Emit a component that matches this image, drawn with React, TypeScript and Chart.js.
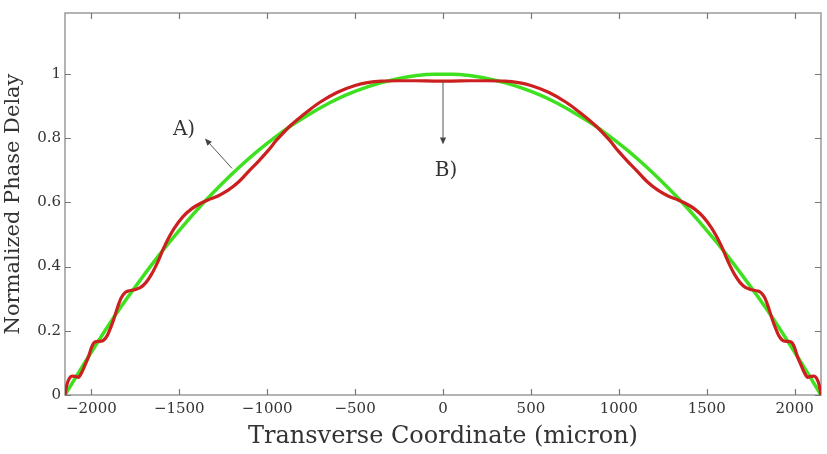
import React, { useEffect, useRef } from "react";
import { Chart, registerables } from "chart.js";

Chart.register(...registerables);

// Smooth reference profile (A)
const greenX = [
  -2150, -2050, -1950, -1850, -1750, -1650, -1550, -1450, -1350, -1250, -1150,
  -1050, -950, -850, -750, -650, -550, -450, -350, -250, -150, -50,
  50, 150, 250, 350, 450, 550, 650, 750, 850, 950, 1050,
  1150, 1250, 1350, 1450, 1550, 1650, 1750, 1850, 1950, 2050, 2150,
];
const greenY = [
  0, 0.09, 0.177, 0.26, 0.337, 0.411, 0.48, 0.545, 0.606, 0.662, 0.714,
  0.762, 0.805, 0.844, 0.878, 0.909, 0.935, 0.956, 0.973, 0.986, 0.995, 0.999,
  0.999, 0.995, 0.986, 0.973, 0.956, 0.935, 0.909, 0.878, 0.844, 0.805, 0.762,
  0.714, 0.662, 0.606, 0.545, 0.48, 0.411, 0.337, 0.26, 0.177, 0.09, 0,
];

// Rippled profile (B)
const redX = [
  -2150, -2140, -2125, -2110, -2092, -2074, -2055, -2035, -2017, -1998, -1980,
  -1955, -1932, -1910, -1890, -1875, -1850, -1830, -1810, -1790, -1755, -1720,
  -1690, -1659, -1635, -1614, -1591, -1560, -1528, -1480, -1432, -1375, -1335,
  -1280, -1222, -1160, -1100, -1050, -994, -950, -920, -870, -824, -760,
  -700, -600, -500, -430, -350, -250, -150, -50, 0,
  50, 150, 250, 350, 430, 500, 600, 700,
  760, 824, 870, 920, 950, 994, 1050, 1100, 1160, 1222, 1280,
  1335, 1375, 1432, 1480, 1528, 1560, 1591, 1614, 1635, 1659, 1690,
  1720, 1755, 1790, 1810, 1830, 1850, 1875, 1890, 1910, 1932, 1955,
  1980, 1998, 2017, 2035, 2055, 2074, 2092, 2110, 2125, 2140, 2150,
];
const redY = [
  0, 0.03, 0.052, 0.059, 0.058, 0.055, 0.07, 0.095, 0.118, 0.15, 0.165,
  0.167, 0.17, 0.185, 0.21, 0.232, 0.275, 0.303, 0.318, 0.324, 0.328, 0.335,
  0.35, 0.375, 0.4, 0.425, 0.455, 0.49, 0.52, 0.555, 0.579, 0.598, 0.608,
  0.62, 0.638, 0.665, 0.7, 0.728, 0.762, 0.792, 0.81, 0.838, 0.86, 0.888,
  0.912, 0.943, 0.964, 0.973, 0.978, 0.979, 0.979, 0.978, 0.978,
  0.978, 0.979, 0.979, 0.978, 0.973, 0.964, 0.943, 0.912,
  0.888, 0.86, 0.838, 0.81, 0.792, 0.762, 0.728, 0.7, 0.665, 0.638, 0.62,
  0.608, 0.598, 0.579, 0.555, 0.52, 0.49, 0.455, 0.425, 0.4, 0.375, 0.35,
  0.335, 0.328, 0.324, 0.318, 0.303, 0.275, 0.232, 0.21, 0.185, 0.17, 0.167,
  0.165, 0.15, 0.118, 0.095, 0.07, 0.055, 0.058, 0.059, 0.052, 0.03, 0,
];

const xTicks = [-2000, -1500, -1000, -500, 0, 500, 1000, 1500, 2000];
const yTicks = [0, 0.2, 0.4, 0.6, 0.8, 1];
const xRange = [-2150, 2150];
const yRange = [0, 1.19];
const xTitle = "Transverse Coordinate (micron)";
const yTitle = "Normalized Phase Delay";

const annotations = [
  { label: "A)", textX: -1473, textY: 0.827, fromX: -1200, fromY: 0.706, toX: -1354, toY: 0.799 },
  { label: "B)", textX: 17, textY: 0.697, fromX: 0, fromY: 0.978, toX: 0, toY: 0.78 },
];

const SERIF = "'DejaVu Serif', 'Liberation Serif', serif";

const fmtTick = (v: number) => {
  const s = String(Math.round(v * 1000) / 1000);
  return v < 0 ? "\u2212" + s.slice(1) : s;
};

const framePlugin = {
  id: "frame",
  beforeDatasetsDraw(chart: any) {
    const { ctx, chartArea, scales } = chart;
    const { left, right, top, bottom } = chartArea;
    ctx.save();
    ctx.strokeStyle = "#9a9a9a";
    ctx.lineWidth = 1.5;
    ctx.strokeRect(left, top, right - left, bottom - top);
    ctx.strokeStyle = "#777";
    ctx.lineWidth = 1.2;
    ctx.beginPath();
    for (const v of xTicks) {
      const px = Math.round(scales.x.getPixelForValue(v)) + 0.5;
      ctx.moveTo(px, bottom);
      ctx.lineTo(px, bottom - 6);
      ctx.moveTo(px, top);
      ctx.lineTo(px, top + 6);
    }
    for (const v of yTicks) {
      const py = Math.round(scales.y.getPixelForValue(v)) + 0.5;
      ctx.moveTo(left, py);
      ctx.lineTo(left + 6, py);
      ctx.moveTo(right, py);
      ctx.lineTo(right - 6, py);
    }
    ctx.stroke();
    ctx.restore();
  },
};

const annotationPlugin = {
  id: "notes",
  afterDatasetsDraw(chart: any) {
    const { ctx, scales } = chart;
    const sx = scales.x;
    const sy = scales.y;
    ctx.save();
    for (const a of annotations) {
      const x1 = sx.getPixelForValue(a.fromX);
      const y1 = sy.getPixelForValue(a.fromY);
      const x2 = sx.getPixelForValue(a.toX);
      const y2 = sy.getPixelForValue(a.toY);
      const ang = Math.atan2(y2 - y1, x2 - x1);
      const head = 7;
      const bx = x2 - head * Math.cos(ang);
      const by = y2 - head * Math.sin(ang);
      ctx.strokeStyle = "#555";
      ctx.fillStyle = "#444";
      ctx.lineWidth = 1;
      ctx.beginPath();
      ctx.moveTo(x1, y1);
      ctx.lineTo(bx, by);
      ctx.stroke();
      ctx.beginPath();
      ctx.moveTo(x2, y2);
      ctx.lineTo(bx + 3 * Math.sin(ang), by - 3 * Math.cos(ang));
      ctx.lineTo(bx - 3 * Math.sin(ang), by + 3 * Math.cos(ang));
      ctx.closePath();
      ctx.fill();
      ctx.fillStyle = "#333";
      ctx.font = `20px ${SERIF}`;
      ctx.textAlign = "center";
      ctx.textBaseline = "middle";
      ctx.fillText(a.label, sx.getPixelForValue(a.textX), sy.getPixelForValue(a.textY));
    }
    ctx.restore();
  },
};

export default function App() {
  const ref = useRef<HTMLCanvasElement | null>(null);

  useEffect(() => {
    if (!ref.current) return;
    const chart = new Chart(ref.current, {
      type: "scatter",
      data: {
        datasets: [
          {
            label: "A",
            data: greenX.map((x, i) => ({ x, y: greenY[i] })),
            showLine: true,
            borderColor: "#3fe01f",
            borderWidth: 3.5,
            pointRadius: 0,
            cubicInterpolationMode: "monotone",
            order: 2,
          },
          {
            label: "B",
            data: redX.map((x, i) => ({ x, y: redY[i] })),
            showLine: true,
            borderColor: "#cc1f1f",
            borderWidth: 3.2,
            pointRadius: 0,
            cubicInterpolationMode: "monotone",
            order: 1,
          },
        ],
      },
      options: {
        responsive: false,
        animation: false,
        layout: { padding: { top: 10, right: 6, left: 0, bottom: 0 } },
        plugins: { legend: { display: false }, tooltip: { enabled: false } },
        scales: {
          x: {
            type: "linear",
            min: xRange[0],
            max: xRange[1],
            afterBuildTicks: (s: any) => {
              s.ticks = xTicks.map((v) => ({ value: v }));
            },
            afterFit: (s: any) => {
              s.height = 59;
            },
            grid: { display: false, drawTicks: false },
            border: { display: false },
            ticks: {
              padding: 5,
              color: "#333",
              font: { family: SERIF, size: 15 },
              maxRotation: 0,
              callback: (v: any) => fmtTick(Number(v)),
            },
            title: {
              display: true,
              text: xTitle,
              color: "#333",
              font: { family: SERIF, size: 24 },
              padding: { top: 0, bottom: 3 },
            },
          },
          y: {
            type: "linear",
            min: yRange[0],
            max: yRange[1],
            afterBuildTicks: (s: any) => {
              s.ticks = yTicks.map((v) => ({ value: v }));
            },
            afterFit: (s: any) => {
              s.width = 65;
            },
            grid: { display: false, drawTicks: false },
            border: { display: false },
            ticks: {
              padding: 4,
              color: "#333",
              font: { family: SERIF, size: 15 },
              callback: (v: any) => fmtTick(Number(v)),
            },
            title: {
              display: true,
              text: yTitle,
              color: "#333",
              font: { family: SERIF, size: 21 },
              padding: { top: 1, bottom: 0 },
            },
          },
        },
      },
      plugins: [framePlugin, annotationPlugin],
    } as any);
    return () => chart.destroy();
  }, []);

  return (
    <div style={{ position: "fixed", left: 0, top: 0, width: 827, height: 454, background: "#fff" }}>
      <canvas ref={ref} width={827} height={454} style={{ display: "block" }} />
    </div>
  );
}
